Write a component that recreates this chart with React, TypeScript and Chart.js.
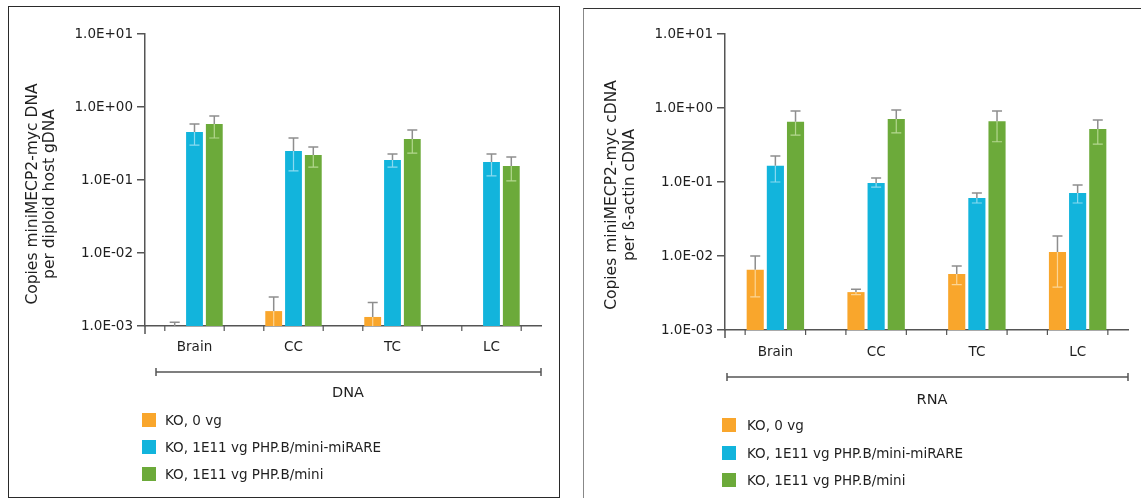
import React, { useEffect, useRef } from "react";
import { Chart, registerables } from "chart.js";

Chart.register(...registerables);

// ---------- data ----------
const categories = ["Brain", "CC", "TC", "LC"];
const seriesNames = ["KO, 0 vg", "KO, 1E11 vg PHP.B/mini-miRARE", "KO, 1E11 vg PHP.B/mini"];
const seriesColors = ["#F9A62C", "#12B4DC", "#6CAA3A"];
const seriesLightColors = ["#FCD594", "#8ADAF0", "#B4D790"];

const yTickValues = [1e-3, 1e-2, 1e-1, 1, 10];
const yTickLabels = ["1.0E-03", "1.0E-02", "1.0E-01", "1.0E+00", "1.0E+01"];

// DNA panel
const dnaKO0 = [0.001, 0.0016, 0.00133, null];
const dnaKO0Hi = [0.00113, 0.0025, 0.0021, null];
const dnaKO0Lo = [0.001, 0.001, 0.001, null];
const dnaMiRARE = [0.455, 0.25, 0.188, 0.176];
const dnaMiRAREHi = [0.585, 0.376, 0.227, 0.227];
const dnaMiRARELo = [0.3, 0.133, 0.15, 0.114];
const dnaMini = [0.585, 0.22, 0.365, 0.155];
const dnaMiniHi = [0.75, 0.283, 0.484, 0.206];
const dnaMiniLo = [0.376, 0.15, 0.234, 0.097];

// RNA panel
const rnaKO0 = [0.0065, 0.00325, 0.0057, 0.0113];
const rnaKO0Hi = [0.01, 0.00355, 0.0073, 0.0187];
const rnaKO0Lo = [0.0028, 0.003, 0.0041, 0.0038];
const rnaMiRARE = [0.166, 0.097, 0.061, 0.071];
const rnaMiRAREHi = [0.224, 0.113, 0.071, 0.091];
const rnaMiRARELo = [0.1, 0.085, 0.052, 0.052];
const rnaMini = [0.65, 0.71, 0.66, 0.52];
const rnaMiniHi = [0.91, 0.94, 0.91, 0.69];
const rnaMiniLo = [0.43, 0.46, 0.35, 0.325];

const FONT = "'DejaVu Sans', sans-serif";
const TEXT = "#1f1f1f";
const AXIS = "#555555";

type PanelCfg = {
  left: number;
  width: number;
  area: { left: number; right: number; top: number; bottom: number };
  xTickPad: number;
  yTitle: string[];
  yTitleX: number[];
  yTitleY: number;
  bracket: { x1: number; x2: number; y: number };
  xTitle: string;
  xTitleX: number;
  xTitleY: number;
  legendSquareX: number;
  legendTextX: number;
  legendY: number[];
  values: (number | null)[][];
  hi: (number | null)[][];
  lo: (number | null)[][];
};

const H = 498;

const decorPlugin = {
  id: "decor",
  afterDatasetsDraw(chart: any) {
    const ctx = chart.ctx;
    const y = chart.scales.y;
    ctx.save();
    chart.data.datasets.forEach((ds: any, di: number) => {
      const meta = chart.getDatasetMeta(di);
      meta.data.forEach((bar: any, i: number) => {
        const v = ds.data[i];
        if (v == null) return;
        const hi = ds.errHi[i];
        const lo = ds.errLo[i];
        const bx = bar.x;
        const top = bar.y;
        if (hi != null) {
          const yh = y.getPixelForValue(hi);
          ctx.strokeStyle = "#8e8e8e";
          ctx.lineWidth = 1.5;
          ctx.beginPath();
          ctx.moveTo(bx, top);
          ctx.lineTo(bx, yh);
          ctx.moveTo(bx - 5, yh);
          ctx.lineTo(bx + 5, yh);
          ctx.stroke();
        }
        if (lo != null && lo < v) {
          const yl = y.getPixelForValue(Math.max(lo, y.min));
          ctx.strokeStyle = ds.errLight;
          ctx.lineWidth = 1.2;
          ctx.beginPath();
          ctx.moveTo(bx, top);
          ctx.lineTo(bx, yl);
          if (lo > y.min) {
            ctx.moveTo(bx - 5, yl);
            ctx.lineTo(bx + 5, yl);
          }
          ctx.stroke();
        }
      });
    });
    ctx.restore();
  },
  afterDraw(chart: any, _args: any, opts: any) {
    const ctx = chart.ctx;
    const x = chart.scales.x;
    const area = chart.chartArea;
    ctx.save();
    ctx.strokeStyle = AXIS;
    ctx.lineWidth = 1.5;
    ctx.beginPath();
    ctx.moveTo(area.left, area.bottom);
    ctx.lineTo(area.left, area.bottom + 8);
    ctx.stroke();
    const catW = x.getPixelForValue(1) - x.getPixelForValue(0);
    const half = (catW * 0.6) / 2;
    ctx.lineWidth = 1.2;
    ctx.beginPath();
    for (let i = 0; i < chart.data.labels.length; i++) {
      const c = x.getPixelForValue(i);
      [c - half, c + half].forEach((px) => {
        ctx.moveTo(px, area.bottom);
        ctx.lineTo(px, area.bottom + 5);
      });
    }
    ctx.stroke();
    const b = opts.bracket;
    ctx.lineWidth = 1.5;
    ctx.beginPath();
    ctx.moveTo(b.x1, b.y);
    ctx.lineTo(b.x2, b.y);
    ctx.moveTo(b.x1, b.y - 4);
    ctx.lineTo(b.x1, b.y + 4);
    ctx.moveTo(b.x2, b.y - 4);
    ctx.lineTo(b.x2, b.y + 4);
    ctx.stroke();
    ctx.fillStyle = TEXT;
    ctx.font = `14.5px ${FONT}`;
    ctx.textAlign = "center";
    ctx.textBaseline = "middle";
    ctx.fillText(opts.xTitle, opts.xTitleX, opts.xTitleY);
    ctx.font = `15.5px ${FONT}`;
    opts.yTitle.forEach((t: string, k: number) => {
      ctx.save();
      ctx.translate(opts.yTitleX[k], opts.yTitleY);
      ctx.rotate(-Math.PI / 2);
      ctx.fillText(t, 0, 0);
      ctx.restore();
    });
    ctx.restore();
  },
};

function Panel({ cfg }: { cfg: PanelCfg }) {
  const ref = useRef<HTMLCanvasElement>(null);
  useEffect(() => {
    const off = cfg.left;
    const chart = new Chart(ref.current as HTMLCanvasElement, {
      type: "bar",
      data: {
        labels: categories,
        datasets: seriesNames.map((name, si) => ({
          label: name,
          data: cfg.values[si],
          errHi: cfg.hi[si],
          errLo: cfg.lo[si],
          errLight: seriesLightColors[si],
          backgroundColor: seriesColors[si],
          borderWidth: 0,
          barPercentage: 0.85,
          categoryPercentage: 0.6,
        })) as any,
      },
      options: {
        responsive: false,
        animation: false,
        layout: {
          padding: { left: 0, top: cfg.area.top, right: cfg.width - (cfg.area.right - off), bottom: 0 },
        },
        plugins: {
          legend: { display: false },
          tooltip: { enabled: false },
          decor: {
            bracket: { x1: cfg.bracket.x1 - off, x2: cfg.bracket.x2 - off, y: cfg.bracket.y },
            xTitle: cfg.xTitle,
            xTitleX: cfg.xTitleX - off,
            xTitleY: cfg.xTitleY,
            yTitle: cfg.yTitle,
            yTitleX: cfg.yTitleX.map((v) => v - off),
            yTitleY: cfg.yTitleY,
          },
        } as any,
        scales: {
          x: {
            type: "category",
            offset: true,
            grid: { display: false, drawTicks: false },
            border: { display: true, color: AXIS, width: 1.5 },
            ticks: { font: { family: FONT, size: 13.5 }, color: TEXT, padding: cfg.xTickPad },
            afterFit: (s: any) => {
              s.height = H - cfg.area.bottom;
            },
          },
          y: {
            type: "logarithmic",
            min: 1e-3,
            max: 10,
            afterBuildTicks: (s: any) => {
              s.ticks = yTickValues.map((v) => ({ value: v }));
            },
            ticks: {
              font: { family: FONT, size: 13.5 },
              color: TEXT,
              padding: 4,
              autoSkip: false,
              callback: (v: any) => {
                const idx = yTickValues.findIndex((t) => Math.abs(Math.log10(t) - Math.log10(v)) < 1e-6);
                return idx >= 0 ? yTickLabels[idx] : "";
              },
            },
            grid: { drawOnChartArea: false, drawTicks: true, tickLength: 8, color: AXIS, lineWidth: 1.5 },
            border: { display: true, color: AXIS, width: 1.5 },
            afterFit: (s: any) => {
              s.width = cfg.area.left - off;
            },
          },
        },
      },
      plugins: [decorPlugin],
    });
    return () => chart.destroy();
  }, []);
  return (
    <>
      <canvas
        ref={ref}
        width={cfg.width}
        height={H}
        style={{ position: "absolute", left: cfg.left, top: 0, width: cfg.width, height: H }}
      />
      {seriesNames.map((n, i) => (
        <React.Fragment key={n}>
          <div
            style={{
              position: "absolute",
              left: cfg.legendSquareX,
              top: cfg.legendY[i] - 7,
              width: 14,
              height: 14,
              background: seriesColors[i],
            }}
          />
          <div
            style={{
              position: "absolute",
              left: cfg.legendTextX,
              top: cfg.legendY[i] - 9,
              height: 18,
              lineHeight: "18px",
              fontFamily: FONT,
              fontSize: 13.5,
              color: TEXT,
              whiteSpace: "nowrap",
            }}
          >
            {n}
          </div>
        </React.Fragment>
      ))}
    </>
  );
}

const dnaCfg: PanelCfg = {
  left: 0,
  width: 570,
  area: { left: 145, right: 541, top: 34, bottom: 326 },
  xTickPad: 13,
  yTitle: ["Copies miniMECP2-myc DNA", "per diploid host gDNA"],
  yTitleX: [33, 50],
  yTitleY: 194,
  bracket: { x1: 156, x2: 541, y: 372 },
  xTitle: "DNA",
  xTitleX: 348,
  xTitleY: 393,
  legendSquareX: 142,
  legendTextX: 165,
  legendY: [420, 447, 474],
  values: [dnaKO0, dnaMiRARE, dnaMini],
  hi: [dnaKO0Hi, dnaMiRAREHi, dnaMiniHi],
  lo: [dnaKO0Lo, dnaMiRARELo, dnaMiniLo],
};

const rnaCfg: PanelCfg = {
  left: 583,
  width: 558,
  area: { left: 725, right: 1128, top: 34, bottom: 330 },
  xTickPad: 14,
  yTitle: ["Copies miniMECP2-myc cDNA", "per ß-actin cDNA"],
  yTitleX: [612, 630],
  yTitleY: 195,
  bracket: { x1: 727, x2: 1128, y: 377 },
  xTitle: "RNA",
  xTitleX: 932,
  xTitleY: 400,
  legendSquareX: 722,
  legendTextX: 747,
  legendY: [425, 453, 480],
  values: [rnaKO0, rnaMiRARE, rnaMini],
  hi: [rnaKO0Hi, rnaMiRAREHi, rnaMiniHi],
  lo: [rnaKO0Lo, rnaMiRARELo, rnaMiniLo],
};

export default function App() {
  return (
    <div
      style={{
        position: "fixed",
        left: 0,
        top: 0,
        width: 1141,
        height: H,
        background: "#fff",
        overflow: "hidden",
      }}
    >
      <div
        style={{
          position: "absolute",
          left: 8,
          top: 6,
          width: 550,
          height: 490,
          border: "1.5px solid #2a2a2a",
        }}
      />
      <div
        style={{
          position: "absolute",
          left: 583,
          top: 8,
          width: 600,
          height: 600,
          borderTop: "1.5px solid #333",
          borderLeft: "1.5px solid #888",
        }}
      />
      <Panel cfg={dnaCfg} />
      <Panel cfg={rnaCfg} />
    </div>
  );
}
